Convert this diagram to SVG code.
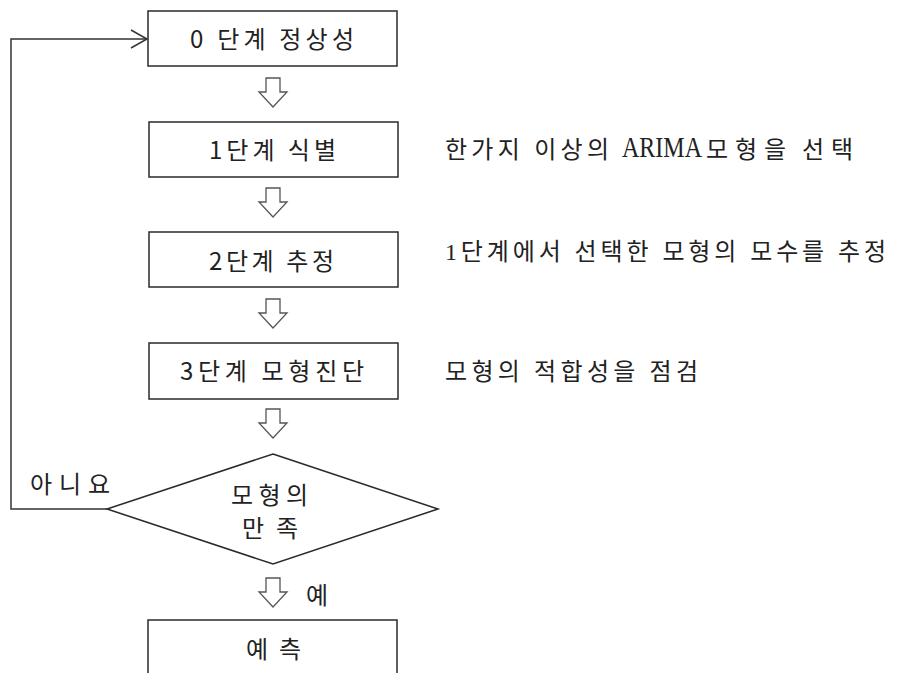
<svg xmlns="http://www.w3.org/2000/svg" width="898" height="673" viewBox="0 0 898 673">
<style>
.box{fill:#fff;stroke:#2a2a2a;stroke-width:1.5}
.t{font-family:"Noto Sans CJK KR","Noto Sans",sans-serif;font-size:24px;fill:#222}
.r{font-family:"Liberation Serif","Noto Sans CJK KR",serif;font-size:24px;fill:#222}
.ha{fill:#fff;stroke:#555;stroke-width:1.3;stroke-linejoin:miter}
.ln{fill:none;stroke:#333;stroke-width:1.5}
</style>
<defs>
<path id="harrow" d="M-7,-29 H7 V-15 H14 L0,0 L-14,-15 H-7 Z"/>
</defs>
<g id="connectors">
<use href="#harrow" class="ha" x="273" y="107"/>
<use href="#harrow" class="ha" x="273" y="217"/>
<use href="#harrow" class="ha" x="273" y="328"/>
<use href="#harrow" class="ha" x="273" y="438"/>
<use href="#harrow" class="ha" x="273" y="607"/>
<polyline class="ln" points="107,509 11,509 11,39 146,39"/>
<polyline class="ln" points="131,30 147,39 131,48"/>
<text class="t" x="30" y="493" textLength="80" lengthAdjust="spacing">아니요</text>
<text class="t" x="306" y="604" textLength="22" lengthAdjust="spacing">예</text>
</g>
<g id="n0">
<rect class="box" x="148" y="11" width="249" height="55"/>
<text class="t" x="190" y="48" textLength="164" lengthAdjust="spacing">0 단계 정상성</text>
</g>
<g id="n1">
<rect class="box" x="149" y="122" width="249" height="55"/>
<text class="t" x="209" y="159" textLength="127" lengthAdjust="spacing">1단계 식별</text>
</g>
<g id="n2">
<rect class="box" x="149" y="232" width="249" height="55"/>
<text class="t" x="209" y="270" textLength="125" lengthAdjust="spacing">2단계 추정</text>
</g>
<g id="n3">
<rect class="box" x="149" y="343" width="249" height="56"/>
<text class="t" x="180" y="380" textLength="184" lengthAdjust="spacing">3단계 모형진단</text>
</g>
<g id="n4">
<polygon class="box" points="273,454 438,509 273,564 107,509"/>
<text class="t" x="231" y="504" textLength="77" lengthAdjust="spacing">모형의</text>
<text class="t" x="242" y="537" textLength="56" lengthAdjust="spacing">만족</text>
</g>
<g id="n5">
<rect class="box" x="148" y="620" width="249" height="70"/>
<text class="t" x="246" y="658" textLength="55" lengthAdjust="spacing">예측</text>
</g>
<g id="notes">
<text class="r" x="445" y="158" textLength="164" lengthAdjust="spacing">한가지 이상의</text>
<text class="r" x="0" y="0" transform="translate(622,157) scale(1,1.2)">ARIMA</text>
<text class="r" x="706" y="158" textLength="80" lengthAdjust="spacing">모형을</text>
<text class="r" x="802" y="158" textLength="51" lengthAdjust="spacing">선택</text>
<text class="r" x="445" y="260" textLength="441" lengthAdjust="spacing">1단계에서 선택한 모형의 모수를 추정</text>
<text class="t" x="445" y="380" textLength="253" lengthAdjust="spacing">모형의 적합성을 점검</text>
</g>
</svg>
